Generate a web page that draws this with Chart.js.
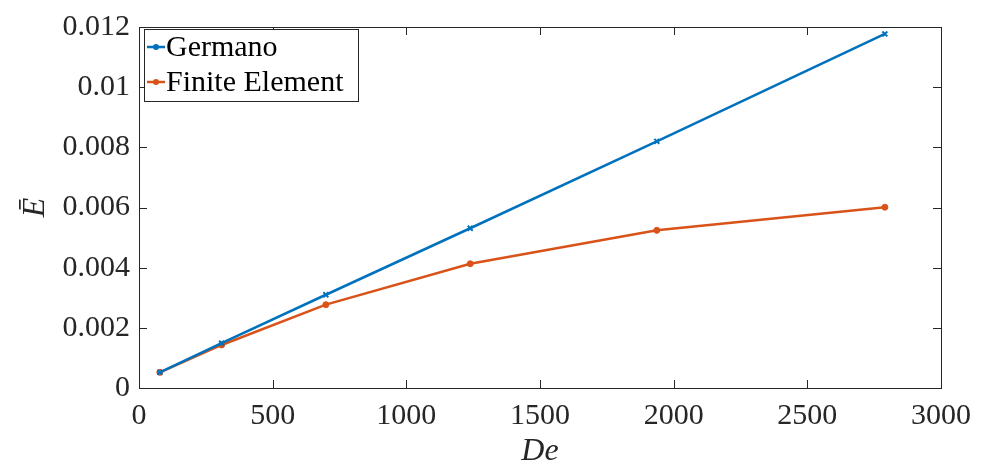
<!DOCTYPE html>
<html>
<head>
<meta charset="utf-8">
<script src="https://cdn.jsdelivr.net/npm/chart.js@4"></script>
<style>
  html, body { margin: 0; padding: 0; background: #fff; }
  #wrap { width: 981px; height: 470px; }
</style>
</head>
<body>
<div id="wrap"><canvas id="chart" width="981" height="470"></canvas></div>
<script>
// De values (x) and the two series
const deValues = [78, 309, 699, 1239, 1937, 2790];
const germano = [0.00052, 0.00149, 0.00310, 0.00531, 0.00820, 0.01177];
const finiteElement = [0.00052, 0.00143, 0.00277, 0.00413, 0.00524, 0.00601];
const seriesNames = ['Germano', 'Finite Element'];
const xTicks = [0, 500, 1000, 1500, 2000, 2500, 3000];
const yTicks = [0, 0.002, 0.004, 0.006, 0.008, 0.01, 0.012];

const FONT = "'Liberation Serif', 'DejaVu Serif', serif";
const AXIS = '#262626';

// inward ticks, box, axis titles and the legend box (MATLAB look)
const matlabFrame = {
    id: 'matlabFrame',
    afterDraw(chart) {
        const { ctx, chartArea: a, scales: { x, y } } = chart;
        ctx.save();
        ctx.strokeStyle = AXIS;
        ctx.lineWidth = 1;
        ctx.strokeRect(a.left + 0.5, a.top + 0.5, a.right - a.left, a.bottom - a.top);
        ctx.beginPath();
        xTicks.forEach(v => {
            const px = Math.round(x.getPixelForValue(v)) + 0.5;
            ctx.moveTo(px, a.bottom); ctx.lineTo(px, a.bottom - 8);
            ctx.moveTo(px, a.top); ctx.lineTo(px, a.top + 8);
        });
        yTicks.forEach(v => {
            const py = Math.round(y.getPixelForValue(v)) + 0.5;
            ctx.moveTo(a.left, py); ctx.lineTo(a.left + 8, py);
            ctx.moveTo(a.right, py); ctx.lineTo(a.right - 8, py);
        });
        ctx.stroke();

        // axis titles
        ctx.fillStyle = AXIS;
        ctx.font = 'italic 32px ' + FONT;
        ctx.textAlign = 'center';
        ctx.textBaseline = 'middle';
        ctx.fillText('De', (a.left + a.right) / 2, 452);
        ctx.save();
        ctx.translate(36, (a.top + a.bottom) / 2);
        ctx.rotate(-Math.PI / 2);
        ctx.fillText('\u0112', 0, 0);
        ctx.restore();

        // legend
        const lx = 144, ly = 29, lw = 214, lh = 72;
        ctx.fillStyle = '#fff';
        ctx.fillRect(lx, ly, lw, lh);
        ctx.strokeStyle = AXIS;
        ctx.lineWidth = 1;
        ctx.strokeRect(lx + 0.5, ly + 0.5, lw, lh);
        ctx.font = '30px ' + FONT;
        ctx.textAlign = 'left';
        ctx.textBaseline = 'middle';
        chart.data.datasets.forEach((ds, i) => {
            const cy = ly + 18 + i * 35;
            ctx.strokeStyle = ds.borderColor;
            ctx.lineWidth = 2.5;
            ctx.beginPath();
            ctx.moveTo(lx + 3, cy); ctx.lineTo(lx + 21, cy);
            ctx.stroke();
            ctx.fillStyle = ds.borderColor;
            ctx.beginPath();
            ctx.arc(lx + 12, cy, 3, 0, Math.PI * 2);
            ctx.fill();
            ctx.fillStyle = '#000';
            ctx.fillText(ds.label, lx + 22, cy + 1);
        });
        ctx.restore();
    }
};

new Chart(document.getElementById('chart'), {
    type: 'line',
    data: {
        datasets: [
            {
                label: seriesNames[0],
                data: deValues.map((d, i) => ({ x: d, y: germano[i] })),
                borderColor: '#0072BD',
                backgroundColor: '#0072BD',
                borderWidth: 2.5,
                pointStyle: 'crossRot',
                pointRadius: 3.5,
                pointBorderWidth: 2,
                tension: 0
            },
            {
                label: seriesNames[1],
                data: deValues.map((d, i) => ({ x: d, y: finiteElement[i] })),
                borderColor: '#D95319',
                backgroundColor: '#D95319',
                borderWidth: 2.5,
                pointStyle: 'circle',
                pointRadius: 3,
                pointBorderWidth: 1,
                tension: 0
            }
        ]
    },
    options: {
        responsive: false,
        animation: false,
        layout: { padding: { left: 0, right: 39, top: 24, bottom: 0 } },
        plugins: { legend: { display: false }, tooltip: { enabled: false } },
        scales: {
            x: {
                type: 'linear',
                min: 0, max: 3000,
                afterFit: s => { s.height = 82; },
                afterBuildTicks: s => { s.ticks = xTicks.map(v => ({ value: v })); },
                grid: { display: false, drawTicks: false },
                border: { display: false },
                ticks: {
                    color: AXIS, padding: 10, font: { family: FONT, size: 30 }, maxRotation: 0,
                    callback: v => String(v)
                }
            },
            y: {
                min: 0, max: 0.012,
                afterFit: s => { s.width = 139; },
                afterBuildTicks: s => { s.ticks = yTicks.map(v => ({ value: v })); },
                grid: { display: false, drawTicks: false },
                border: { display: false },
                ticks: {
                    color: AXIS, padding: 9, font: { family: FONT, size: 30 },
                    callback: v => String(parseFloat(v.toFixed(3)))
                }
            }
        }
    },
    plugins: [matlabFrame]
});
</script>
</body>
</html>
